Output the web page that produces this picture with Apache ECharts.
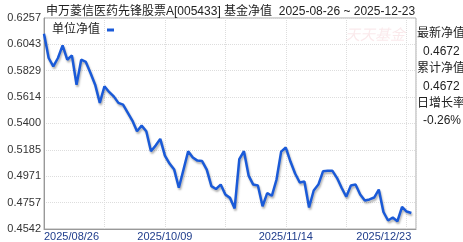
<!DOCTYPE html>
<html><head><meta charset="utf-8">
<script src="https://cdn.jsdelivr.net/npm/echarts@6/dist/echarts.min.js"></script>
<style>html,body{margin:0;padding:0;background:#fff}#c{width:463px;height:242px}</style>
</head><body><div id="c"></div>
<script>
var dates = ['2025-08-26','2025-08-27','2025-08-28','2025-08-29',
'2025-09-01','2025-09-02','2025-09-03','2025-09-04','2025-09-05','2025-09-08','2025-09-09','2025-09-10','2025-09-11','2025-09-12',
'2025-09-15','2025-09-16','2025-09-17','2025-09-18','2025-09-19','2025-09-22','2025-09-23','2025-09-24','2025-09-25','2025-09-26','2025-09-29','2025-09-30',
'2025-10-09','2025-10-10','2025-10-13','2025-10-14','2025-10-15','2025-10-16','2025-10-17','2025-10-20','2025-10-21','2025-10-22','2025-10-23','2025-10-24',
'2025-10-27','2025-10-28','2025-10-29','2025-10-30','2025-10-31',
'2025-11-03','2025-11-04','2025-11-05','2025-11-06','2025-11-07','2025-11-10','2025-11-11','2025-11-12','2025-11-13','2025-11-14',
'2025-11-17','2025-11-18','2025-11-19','2025-11-20','2025-11-21','2025-11-24','2025-11-25','2025-11-26','2025-11-27','2025-11-28',
'2025-12-01','2025-12-02','2025-12-03','2025-12-04','2025-12-05','2025-12-08','2025-12-09','2025-12-10','2025-12-11','2025-12-12',
'2025-12-15','2025-12-16','2025-12-17','2025-12-18','2025-12-19','2025-12-22','2025-12-23'];
var nav = [0.6129,0.5932,0.5864,0.5932,0.6035,0.5918,0.5953,0.5715,0.5918,0.5900,
0.5810,0.5715,0.5567,0.5702,0.5656,0.5620,0.5567,0.5553,0.5488,0.5423,
0.5336,0.5382,0.5336,0.5174,0.5220,0.5274,0.5139,0.5074,0.5025,0.4877,
0.5025,0.5174,0.5123,0.5098,0.5094,0.5025,0.4890,0.4867,0.4903,0.4822,
0.4795,0.4709,0.5110,0.5174,0.4976,0.4903,0.4895,0.4727,0.4833,0.4812,
0.4944,0.5171,0.5204,0.5090,0.4993,0.4920,0.4928,0.4717,0.4855,0.4903,
0.5011,0.5015,0.5016,0.4958,0.4877,0.4804,0.4895,0.4903,0.4822,0.4773,
0.4782,0.4798,0.4863,0.4680,0.4611,0.4635,0.4605,0.4722,0.4684,0.4672];
var yTicks = [0.4542,0.4757,0.4971,0.5185,0.5400,0.5614,0.5829,0.6043,0.6257];
var xLabelIdx = [0,26,52,79];
var titleText = '申万菱信医药先锋股票A[005433] 基金净值  2025-08-26 ~ 2025-12-23';
var seriesName = '单位净值';
var panelTexts = ['最新净值','0.4672','累计净值','0.4672','日增长率','-0.26%'];

var FONT = "'Liberation Sans','Noto Sans CJK SC',sans-serif";
var chart = echarts.init(document.getElementById('c'), null, {renderer:'canvas'});
var data = nav.map(function(v,i){return [i,v];});
var panelY = [35,52.5,70,87.5,104.5,121.5];
var graphics = panelTexts.map(function(t,k){
  return {type:'text', left: (k%2===0)? 417 : 423, top: panelY[k]-7,
    style:{text:t, fill:'#222', font:'12px '+FONT}};
});
graphics.push({type:'text', left:345, top:28, style:{text:'天天基金', fill:'rgba(225,120,130,0.16)', font:'italic 15px '+FONT}});
chart.setOption({
  animation:false,
  title:{text:titleText, left:41, top:1, textStyle:{fontSize:12, fontWeight:'normal', color:'#222', fontFamily:FONT}},
  legend:{data:[seriesName], left:47, top:19, align:'right', icon:'rect', itemWidth:7, itemHeight:3, itemGap:2,
    textStyle:{fontSize:12, color:'#222', fontFamily:FONT, padding:[0,2,0,0]}},
  grid:{left:44, right:47, top:18, bottom:13, show:true, borderColor:'#aaa', borderWidth:1},
  xAxis:{type:'value', min:0, max:80, interval:13,
    axisLine:{show:true, lineStyle:{color:'#999'}}, axisTick:{show:false},
    splitLine:{show:true, lineStyle:{color:'#ddd', type:'dotted'}},
    axisLabel:{customValues:xLabelIdx, formatter:function(v){var d=dates[Math.round(v)];return d?d.replace(/-/g,'/'):'';},
      color:'#1f3d8c', fontSize:11, fontFamily:FONT, margin:2, alignMinLabel:'left', alignMaxLabel:'right'}},
  yAxis:{type:'value', min:yTicks[0], max:yTicks[yTicks.length-1],
    axisLine:{show:true, lineStyle:{color:'#999'}},
    axisTick:{show:false, customValues:yTicks},
    splitLine:{show:true, lineStyle:{color:'#ddd', type:'dotted'}},
    axisLabel:{customValues:yTicks, formatter:function(v){return v.toFixed(4);}, color:'#333', fontSize:11, fontFamily:FONT, margin:3}},
  graphic:graphics,
  series:[{name:seriesName, type:'line', data:data, showSymbol:false, symbol:'none',
    itemStyle:{color:'#1a5ad8'},
    lineStyle:{color:'#1a5ad8', width:2.5, shadowColor:'rgba(0,0,0,0.3)', shadowBlur:2, shadowOffsetX:1, shadowOffsetY:2}}]
});
</script></body></html>
